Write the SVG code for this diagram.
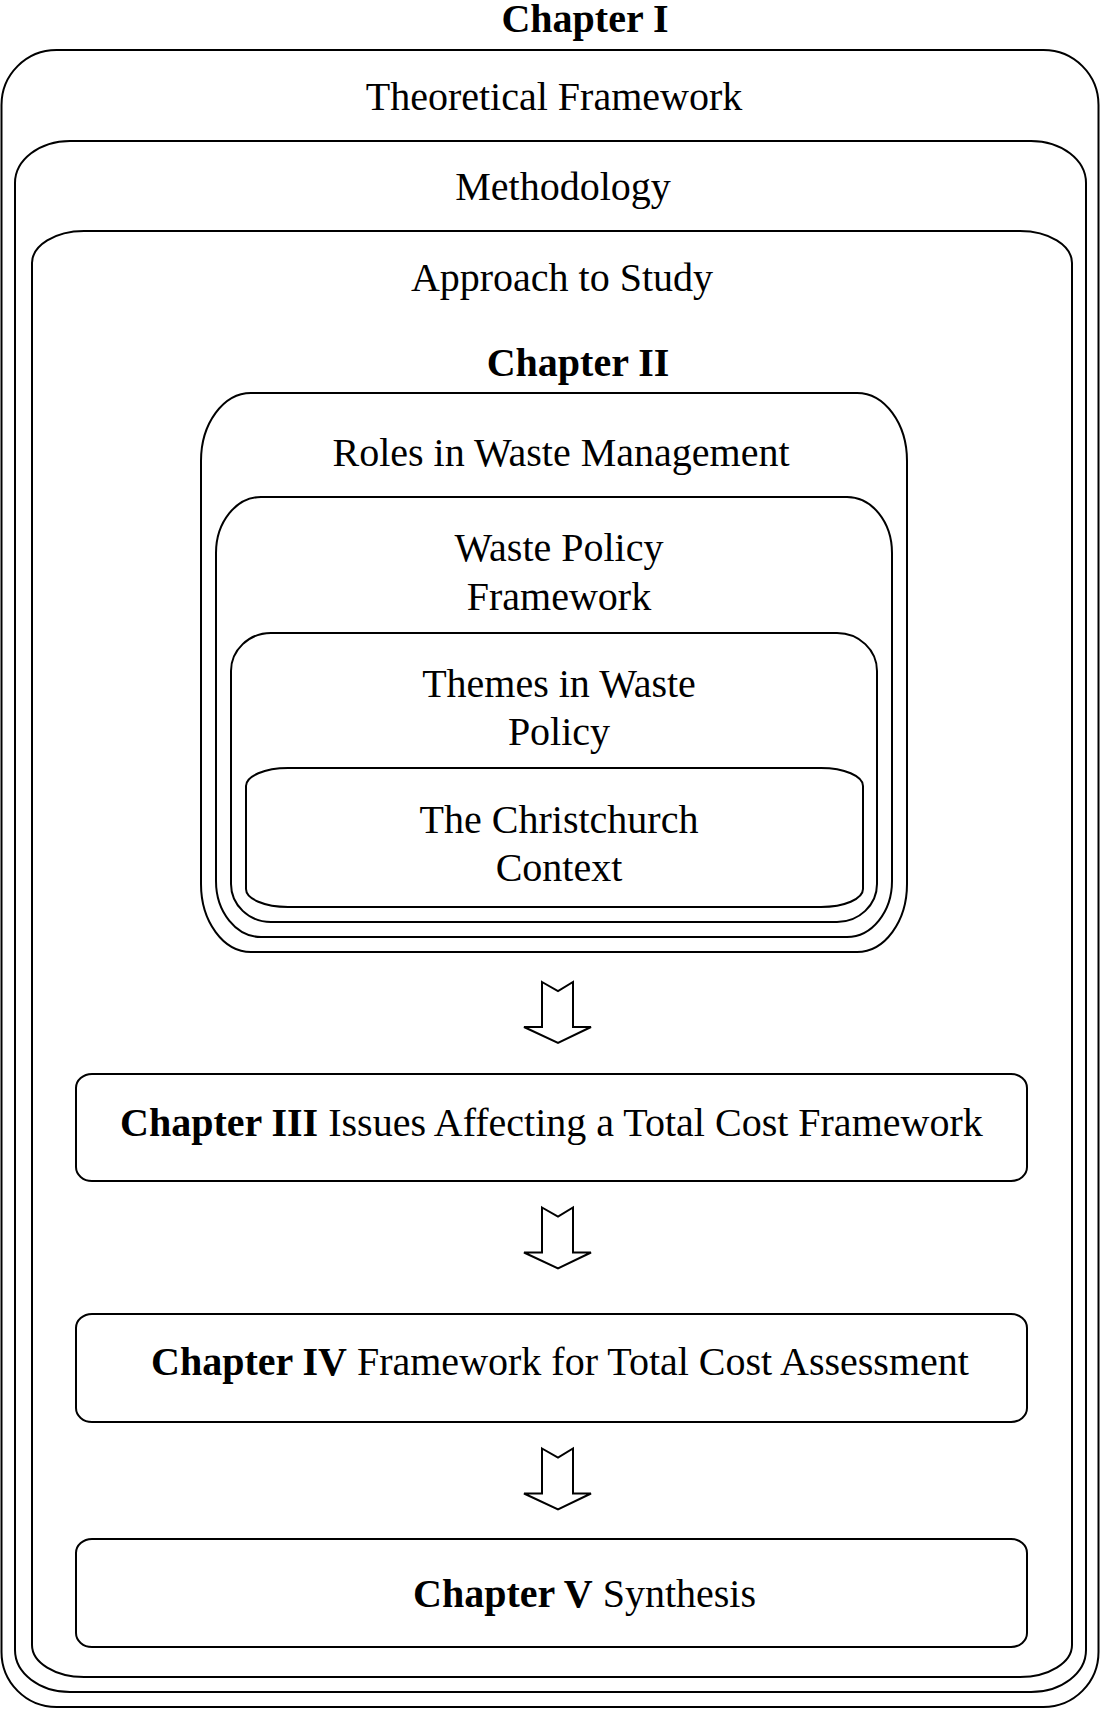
<svg xmlns="http://www.w3.org/2000/svg" width="1101" height="1709" viewBox="0 0 1101 1709">
  <style>
    .box { fill: none; stroke: #000; stroke-width: 2; }
    .arrow { fill: #fff; stroke: #000; stroke-width: 2; stroke-linejoin: miter; }
    text { font-family: "Liberation Serif", "Times New Roman", serif; font-size: 40px; fill: #000; }
    .c { text-anchor: middle; }
    .b { font-weight: bold; }
  </style>
  <rect width="1101" height="1709" fill="#fff"/>

  <!-- Chapter I: nested frame -->
  <g id="chapter1">
    <text class="c b" x="585" y="32">Chapter I</text>
  </g>
  <g id="theoretical-framework">
    <rect class="box" x="1.5" y="50" width="1097" height="1657" rx="55" ry="55"/>
    <text class="c" x="554" y="110">Theoretical Framework</text>
  </g>
  <g id="methodology">
    <rect class="box" x="15" y="141" width="1071" height="1551" rx="55" ry="42"/>
    <text class="c" x="563" y="200">Methodology</text>
  </g>
  <g id="approach">
    <rect class="box" x="32" y="231" width="1040" height="1446" rx="52" ry="32"/>
    <text class="c" x="562" y="291">Approach to Study</text>
  </g>

  <!-- Chapter II: nested frame -->
  <g id="chapter2">
    <text class="c b" x="578" y="376">Chapter II</text>
  </g>
  <g id="roles">
    <rect class="box" x="201" y="393" width="706" height="559" rx="50" ry="68"/>
    <text class="c" x="561" y="466">Roles in Waste Management</text>
  </g>
  <g id="waste-policy">
    <rect class="box" x="216" y="497" width="676" height="440" rx="45" ry="56"/>
    <text class="c" x="559" y="561">Waste Policy</text>
    <text class="c" x="559" y="610">Framework</text>
  </g>
  <g id="themes">
    <rect class="box" x="231" y="633" width="646" height="289" rx="40" ry="38"/>
    <text class="c" x="559" y="697">Themes in Waste</text>
    <text class="c" x="559" y="745">Policy</text>
  </g>
  <g id="christchurch">
    <rect class="box" x="246" y="768" width="617" height="139" rx="42" ry="18"/>
    <text class="c" x="559" y="833">The Christchurch</text>
    <text class="c" x="559" y="881">Context</text>
  </g>

  <!-- Later chapters -->
  <g id="chapter3">
    <rect class="box" x="76" y="1074" width="951" height="107" rx="16" ry="14"/>
    <text x="120" y="1136"><tspan class="b">Chapter III</tspan> Issues Affecting a Total Cost Framework</text>
  </g>
  <g id="chapter4">
    <rect class="box" x="76" y="1314" width="951" height="108" rx="16" ry="14"/>
    <text x="151" y="1375"><tspan class="b">Chapter IV</tspan> Framework for Total Cost Assessment</text>
  </g>
  <g id="chapter5">
    <rect class="box" x="76" y="1539" width="951" height="108" rx="16" ry="14"/>
    <text x="413" y="1607"><tspan class="b">Chapter V</tspan> Synthesis</text>
  </g>

  <!-- Block arrows between stages -->
  <defs>
    <path id="blockArrow" class="arrow" d="M542,0 L558,9 L573,0 L573,45 L591,45 L558,61 L524,45 L542,45 Z"/>
  </defs>
  <g id="connectors">
    <use href="#blockArrow" y="982"/>
    <use href="#blockArrow" y="1207.5"/>
    <use href="#blockArrow" y="1448.5"/>
  </g>
</svg>
